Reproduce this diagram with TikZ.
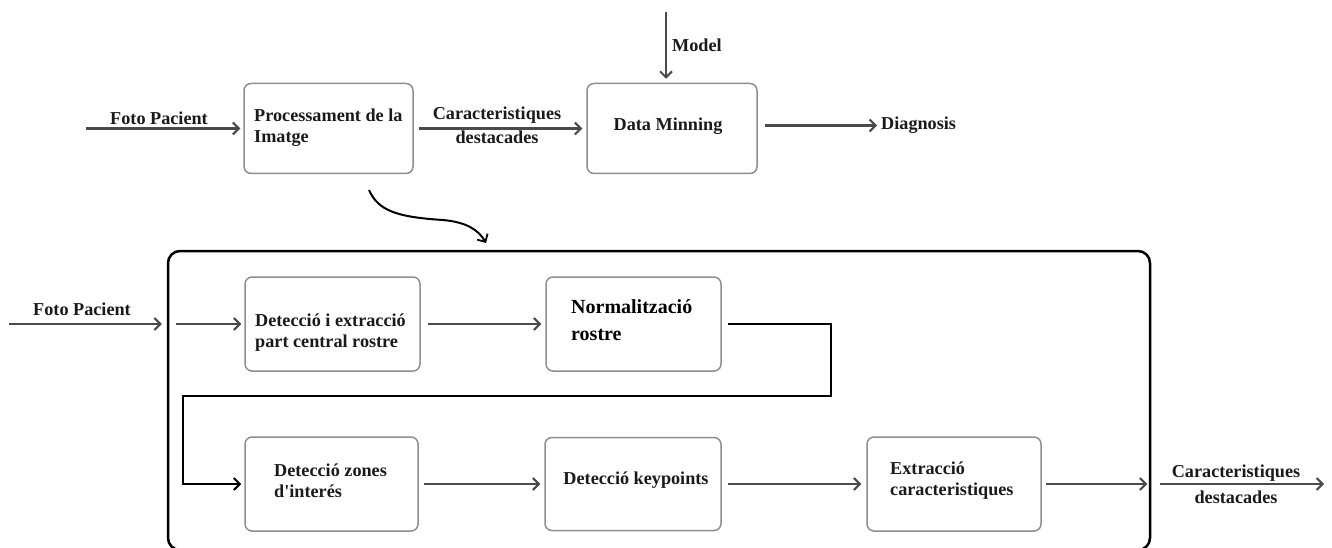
\documentclass[tikz,border=0pt]{standalone}
\usepackage{fontspec}
\setmainfont{Liberation Serif}
\usetikzlibrary{arrows.meta}
\definecolor{boxgray}{HTML}{8E8E8E}
\definecolor{arrgray}{HTML}{4A4A4A}
\definecolor{txt}{HTML}{1A1A1A}
\begin{document}
\begin{tikzpicture}[x=1pt,y=-1pt,
  box/.style={draw=boxgray, line width=1.5pt, rounded corners=7pt, inner sep=0pt},
  lbl/.style={text=txt, font=\bfseries\fontsize{18.2}{21}\selectfont, inner sep=0pt, align=left},
  biglbl/.style={text=black, font=\bfseries\fontsize{20}{27}\selectfont, inner sep=0pt, align=left},
  arr/.style={draw=arrgray, line width=2.6pt, -{Straight Barb[length=6pt,width=12pt,line width=2pt]}},
  barr/.style={draw=black, line width=2.8pt, -{Straight Barb[length=6pt,width=12pt,line width=2pt]}},
  curv/.style={draw=black, line width=2pt, -{Straight Barb[length=6pt,width=12pt,line width=1.8pt]}},
  frame/.style={draw=black, line width=2.5pt, rounded corners=12pt, inner sep=0pt}
]
\useasboundingbox (0,0) rectangle (1332,548);

% big frame (bottom edge falls at the picture's lower border)
\node[frame, minimum width=982pt, minimum height=299pt] (fr) at (659,400.5) {};

% top row boxes
\node[box, minimum width=169pt, minimum height=90pt] (b1) at (328.5,128.5) {};
\node[box, minimum width=170pt, minimum height=90pt] (b2) at (672,128.5) {};
% lower boxes
\node[box, minimum width=175pt, minimum height=94pt] (b3) at (332.5,324) {};
\node[box, minimum width=175pt, minimum height=94pt] (b4) at (633.5,324) {};
\node[box, minimum width=173pt, minimum height=94pt] (b5) at (331.5,484) {};
\node[box, minimum width=176pt, minimum height=93pt] (b6) at (633,484) {};
\node[box, minimum width=174pt, minimum height=94pt] (b7) at (954,484) {};

% box texts
\node[lbl, anchor=west] (t1) at (254,128) {Processament de la\\Imatge};
\node[lbl] (t2) at (668,126) {Data Minning};
\node[lbl, anchor=west] (t3) at (255,333) {Detecció i extracció\\part central rostre};
\node[biglbl, anchor=west] (t4) at (571,320) {Normalització\\rostre};
\node[lbl, anchor=west] (t5) at (274,481) {Detecció zones\\d\textquotesingle interés};
\node[lbl] (t6) at (636,480) {Detecció keypoints};
\node[lbl, anchor=west] (t7) at (890,481) {Extracció\\caracteristiques};

% top row connectors
\coordinate (fin) at (86,128.5);
\draw[arr, shorten >=3pt] (fin) -- (b1.west |- fin);
\node[lbl] (lfoto) at (159,118) {Foto Pacient};

\draw[arr, shorten <=5pt, shorten >=4pt] (b1.east) -- (b2.west);
\node[lbl, align=center, font=\bfseries\fontsize{18.2}{24}\selectfont] (lcar) at (497,125) {Caracteristiques\\destacades};

\coordinate (mtop) at (666,12);
\draw[arr, shorten >=4pt] (mtop) -- (mtop |- b2.north);
\node[lbl, anchor=west] (lmodel) at (672,45) {Model};

\coordinate (dg) at (877,125.5);
\draw[arr, shorten <=7pt] (b2.east |- dg) -- (dg);
\node[lbl, anchor=west] (ldiag) at (881,125) {Diagnosis};

% curved arrow
\coordinate (cs) at (369,190);
\coordinate (cm) at (443,220);
\coordinate (ce) at (486,243);
\draw[curv] (cs) .. controls (378,210) and (395,217) .. (cm) .. controls (465,222) and (478,229) .. (ce);

% lower input
\coordinate (fin2) at (9,324);
\draw[arr, shorten >=5pt] (fin2) -- (fr.west |- fin2);
\node[lbl] (lfoto2) at (82,309) {Foto Pacient};
\draw[arr, shorten <=9pt, shorten >=3pt] (fr.west |- b3.west) -- (b3.west);

\draw[arr, shorten <=7pt, shorten >=4pt] (b3.east) -- (b4.west);

% return connector
\coordinate (k1) at (831,324);
\coordinate (k2) at (831,396);
\coordinate (k3) at (183,396);
\draw[barr, shorten <=6pt, shorten >=3pt] (b4.east) -- (k1) -- (k2) -- (k3) |- (b5.west);

\draw[arr, shorten <=5pt, shorten >=4pt] (b5.east) -- (b6.west);
\draw[arr, shorten <=6pt, shorten >=5pt] (b6.east) -- (b7.west);
\draw[arr, shorten <=4pt, shorten >=4pt] (b7.east) -- (fr.east |- b7.east);

\coordinate (fout) at (1324,484);
\draw[arr, shorten <=9pt] (fr.east |- fout) -- (fout);
\node[lbl, align=center, font=\bfseries\fontsize{18.2}{26}\selectfont] (lout) at (1236,484) {Caracteristiques\\destacades};
\end{tikzpicture}
\end{document}
